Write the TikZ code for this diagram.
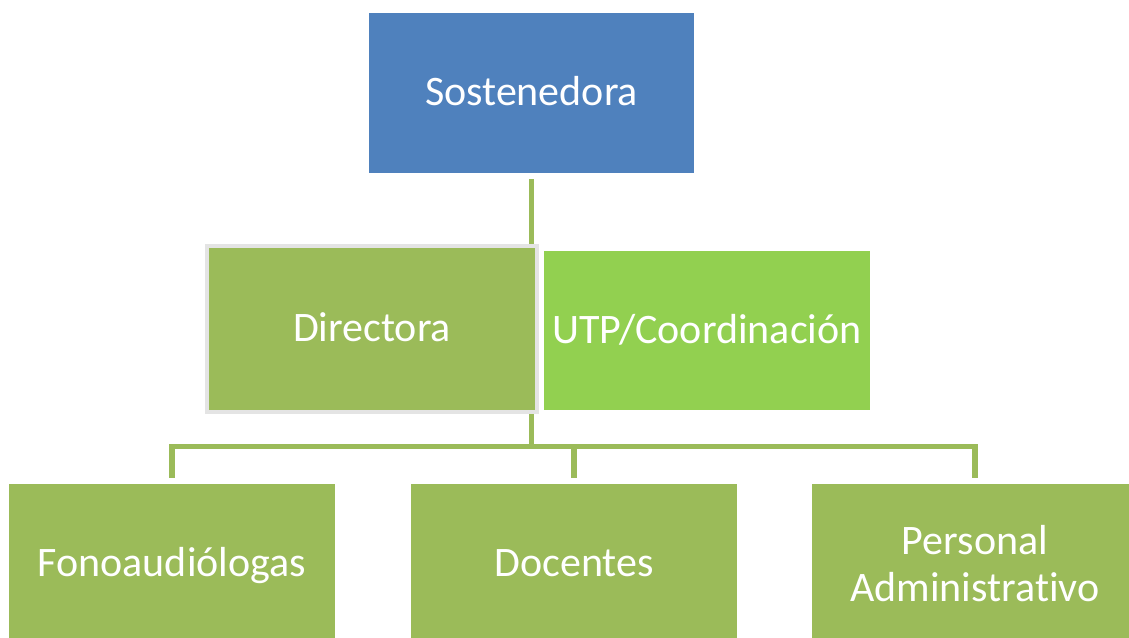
\documentclass[tikz,border=0pt]{standalone}
\usepackage{fontspec}
\setmainfont{Carlito}[Ligatures=NoCommon]
\usetikzlibrary{backgrounds}
\definecolor{sosblue}{HTML}{4F81BD}
\definecolor{olive}{HTML}{9BBB59}
\definecolor{lime}{HTML}{92D050}
\definecolor{lgray}{HTML}{E4E4E4}
\tikzset{
  box/.style={rectangle, inner sep=0pt, text=white, align=center,
    font=\fontsize{42}{47}\selectfont},
  oneline/.style={text height=29pt, text depth=4pt},
  conn/.style={draw=olive, line width=5.5pt},
}
\begin{document}
\begin{tikzpicture}[x=1pt,y=-1pt]
\useasboundingbox (0,0) rectangle (1129,637);
\clip (0,0) rectangle (1129,637);
\node[box, oneline, fill=sosblue, minimum width=325pt, minimum height=160pt] (sos) at (531.5,93) {Sostenedora};
\node[box, oneline, fill=olive, draw=lgray, line width=4pt, minimum width=330pt, minimum height=166pt] (dir) at (372,328.5) {Directora};
\node[box, oneline, fill=lime, minimum width=326pt, minimum height=159pt] (utp) at (707,330.5) {UTP/Coordinación};
\node[box, oneline, fill=olive, minimum width=326pt, minimum height=160pt] (fono) at (172,564) {Fonoaudiólogas};
\node[box, oneline, fill=olive, minimum width=326pt, minimum height=160pt] (doc) at (574,564) {Docentes};
\node[box, fill=olive, minimum width=326pt, minimum height=160pt] (pers) at (975,564) {Personal\\Administrativo};
\coordinate (bar) at (532,446.5);
\begin{pgfonlayer}{background}
\fill[white] (0,0) rectangle (1129,637);
\draw[conn] ([yshift=-6pt]sos.south) -- (sos.south |- bar);
\draw[conn] ([yshift=6pt]fono.north) -- (fono.north |- bar) -- (pers.north |- bar) -- ([yshift=6pt]pers.north);
\draw[conn] ([yshift=6pt]doc.north) -- (doc.north |- bar);
\end{pgfonlayer}
\end{tikzpicture}
\end{document}
